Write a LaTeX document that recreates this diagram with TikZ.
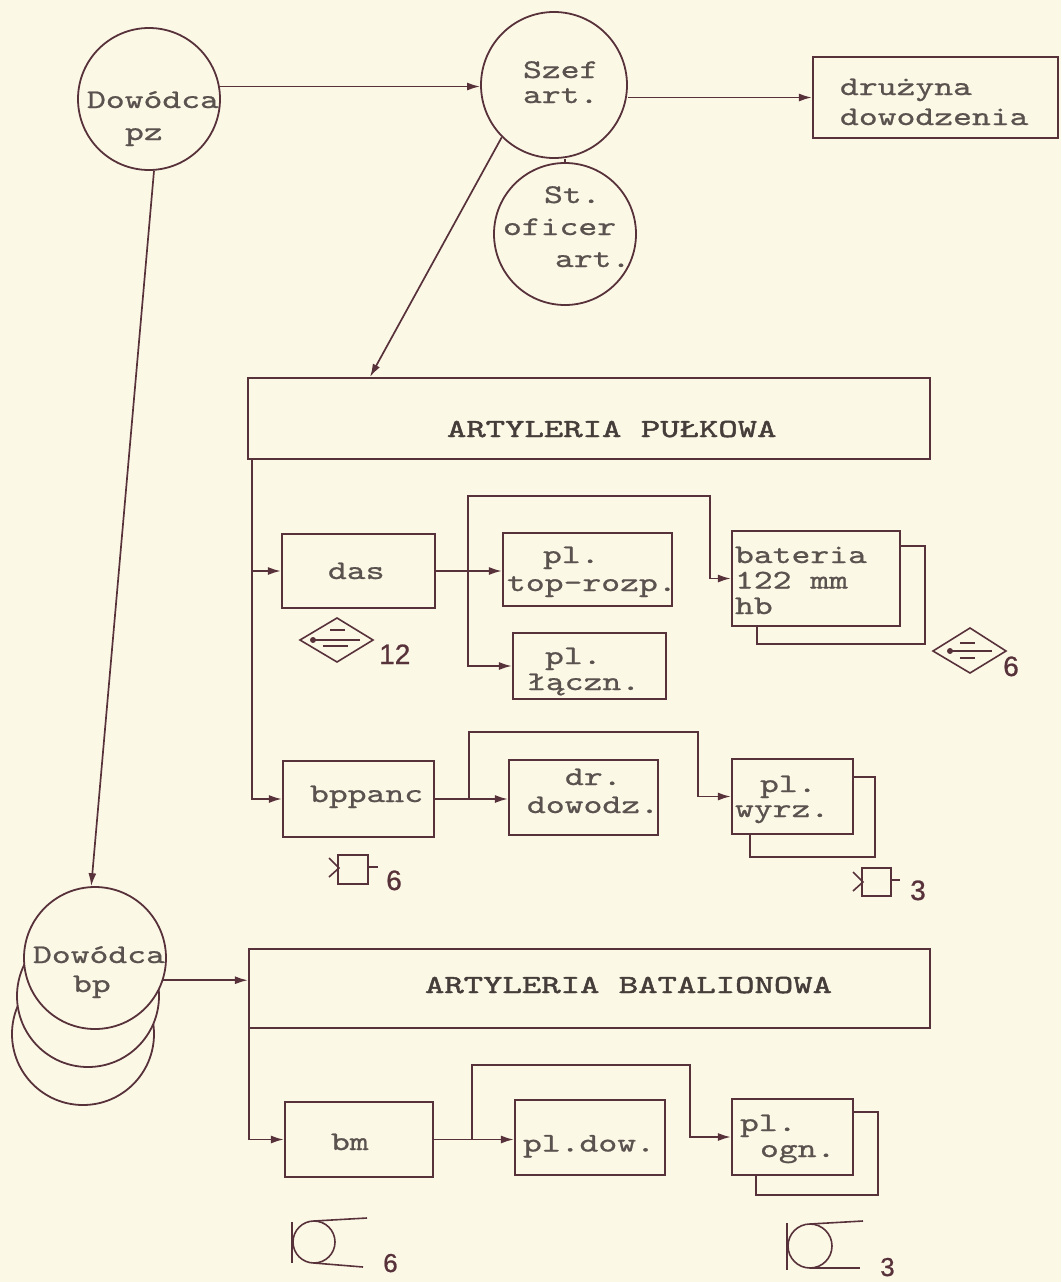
\documentclass[tikz,border=0pt]{standalone}
\usepackage{fontspec}
\usetikzlibrary{arrows.meta,calc}
\newfontfamily\tw{lmmono10-regular.otf}[FakeStretch=1.33,FakeBold=0.8]
\newfontfamily\twcaps{lmmono10-regular.otf}[FakeStretch=1.42,FakeBold=1.8]
\newfontfamily\hand{Liberation Sans}[FakeBold=0.8]
\definecolor{paper}{RGB}{252,248,230}
\definecolor{ink}{RGB}{88,50,58}
\definecolor{type}{RGB}{90,82,78}
% text block: #1 left offset, #2 first baseline below centre, #3 line distance, #4 lines
\newcommand\tx[4]{\makebox[0pt][l]{\hspace*{#1}\raisebox{-#2}[0pt][0pt]{\vtop{\baselineskip=#3\relax\lineskiplimit=-100pt\lineskip=0pt\halign{##\hfil\cr#4\crcr}}}}}
\begin{document}
\begin{tikzpicture}[x=1pt,y=-1pt,
  circ/.style={draw=ink, circle, line width=1.8pt, minimum size=142pt, inner sep=0pt, text=type, font=\tw\fontsize{27}{30}\selectfont},
  box/.style={draw=ink, rectangle, line width=2.2pt, inner sep=0pt, text=type, font=\tw\fontsize{27}{30}\selectfont},
  capsbox/.style={box, text=type!75!black, font=\twcaps\fontsize{26}{30}\selectfont},
  arr/.style={draw=ink, line width=1.7pt, -{Latex[length=13pt,width=8pt]}},
  conn/.style={draw=ink, line width=1.7pt},
  shadowline/.style={draw=ink, line width=2pt},
  sym/.style={draw=ink, line width=1.6pt},
  num/.style={text=ink, font=\hand\fontsize{28}{30}\selectfont, inner sep=0pt, anchor=base west}
]
\useasboundingbox (0,0) rectangle (1061,1282);
\fill[paper] (0,0) rectangle (1061,1282);

% ---- circles
\node[circ] (pz) at (149,99) {\tx{-62pt}{9pt}{32pt}{Dowódca\cr\hspace*{38pt}pz}};
\node[circ, minimum size=146pt] (szef) at (554,85) {\tx{-31pt}{-7pt}{25pt}{Szef\cr art.}};
\node[circ] (st) at (565,234) {\tx{-62pt}{-31pt}{32pt}{\hspace*{41pt}St.\cr oficer\cr\hspace*{52pt}art.}};
\node[circ, fill=paper] (bp3) at (83,1034) {};
\node[circ, fill=paper] (bp2) at (88,996) {};
\node[circ, fill=paper] (bp1) at (95,958) {\tx{-62pt}{5pt}{29pt}{Dowódca\cr\hspace*{40pt}bp}};

% ---- boxes
\node[box, minimum width=245pt, minimum height=81pt] (druz) at (935.5,97.5) {\tx{-95.5pt}{-2.5pt}{30pt}{drużyna\cr dowodzenia}};
\node[capsbox, minimum width=682pt, minimum height=81pt] (AP) at (589,418.5) {\tx{-142pt}{18.5pt}{30pt}{ARTYLERIA PUŁKOWA}};
\node[capsbox, minimum width=681pt, minimum height=79pt] (AB) at (589.5,988.5) {\tx{-164.5pt}{4.5pt}{30pt}{ARTYLERIA BATALIONOWA}};

\node[box, minimum width=153pt, minimum height=74pt] (das) at (358.5,571) {\tx{-30.5pt}{8pt}{30pt}{das}};
\node[box, minimum width=169pt, minimum height=73pt] (top) at (587.5,569.5) {\tx{-80.5pt}{-6.5pt}{28pt}{\hspace*{36pt}pl.\cr top-rozp.}};
\node[box, minimum width=153pt, minimum height=66pt] (lacz) at (589.5,666) {\tx{-62.5pt}{-2pt}{26pt}{\hspace*{18pt}pl.\cr łączn.}};
\node[box, minimum width=168pt, minimum height=95pt] (bat) at (816,578.5) {\tx{-81pt}{-15.5pt}{25.5pt}{bateria\cr 122 mm\cr hb}};

\node[box, minimum width=151pt, minimum height=76pt] (bppanc) at (358.5,799) {\tx{-48.5pt}{3pt}{30pt}{bppanc}};
\node[box, minimum width=149pt, minimum height=75pt] (drdow) at (583.5,797.5) {\tx{-56.5pt}{-12.5pt}{28pt}{\hspace*{38pt}dr.\cr dowodz.}};
\node[box, minimum width=121pt, minimum height=75pt] (wyrz) at (792.5,796.5) {\tx{-57.5pt}{-4.5pt}{25pt}{\hspace*{25pt}pl.\cr wyrz.}};

\node[box, minimum width=148pt, minimum height=75pt] (bm) at (359,1139.5) {\tx{-28pt}{10.5pt}{30pt}{bm}};
\node[box, minimum width=150pt, minimum height=75pt] (pldow) at (590,1137.5) {\tx{-67pt}{14pt}{30pt}{pl.dow.}};
\node[box, minimum width=121pt, minimum height=76pt] (ogn) at (792.5,1137) {\tx{-52.5pt}{-6pt}{26pt}{pl.\cr\hspace*{20pt}ogn.}};

% ---- shadows of multiplied units
\draw[shadowline] ($(bat.north east)+(0,16)$) -- ++(24,0) |- ($(bat.south west)+(26,17)$) -- ($(bat.south west)+(26,0)$);
\draw[shadowline] ($(wyrz.north east)+(0,19)$) -- ++(21,0) |- ($(wyrz.south west)+(19,22)$) -- ($(wyrz.south west)+(19,0)$);
\draw[shadowline] ($(ogn.north east)+(0,14)$) -- ++(24,0) |- ($(ogn.south west)+(25,19)$) -- ($(ogn.south west)+(25,0)$);

% ---- top connectors
\draw[arr] (pz.10) -- (pz.10 -| szef.west);
\draw[arr] (druz.west -| szef.east) -- (druz.west);
\draw[conn] (st.north) -- (st.north |- szef.south);
\coordinate (apT) at ($(AP.north west)!0.18!(AP.north east)$);
\draw[arr] (szef.-135) -- (apT);
\draw[arr] (pz.-86) -- (bp1.93);
\draw[arr] (bp1.-18) -- (bp1.-18 -| AB.west);

% ---- regimental artillery
\coordinate (apL) at ($(AP.south west)+(5,0)$);
\draw[arr] (apL) |- (bppanc.west);
\draw[arr] (apL |- das.west) -- (das.west);
\draw[arr] (das.east) -- (das.east -| top.west);
\coordinate (j1) at (468,571);
\coordinate (k1) at (710,496);
\draw[arr] (j1) |- (k1) |- (bat.west);
\draw[arr] (j1) |- (lacz.west);

\draw[arr] (bppanc.east) -- (bppanc.east -| drdow.west);
\coordinate (j2) at (469,799);
\coordinate (k2) at (698,732);
\draw[arr] (j2) |- (k2) |- (wyrz.west);

% ---- battalion artillery
\coordinate (abL) at ($(AB.south west)+(1,0)$);
\draw[arr] (abL) |- (bm.west);
\draw[arr] (bm.east) -- (bm.east -| pldow.west);
\coordinate (j3) at (472,1139.5);
\coordinate (k3) at (690,1065);
\draw[arr] (j3) |- (k3) |- (ogn.west);

% ---- symbols
% radio station under das
\draw[sym] (300,640) -- (337,618) -- (373,640) -- (337,662) -- cycle;
\fill[ink] (313,640) circle (3pt);
\draw[sym] (313,640) -- (360,640);
\draw[sym] (330,630) -- (345,630);
\draw[sym, line width=2.5pt] (323,646) -- (348,646);
\node[num] (n12) at (379,664) {12};
% radio station at battery
\draw[sym] (933,651) -- (970,628) -- (1006,651) -- (970,673) -- cycle;
\fill[ink] (950,651) circle (3pt);
\draw[sym] (950,651) -- (992,651);
\draw[sym] (960,643) -- (975,643);
\draw[sym] (960,658) -- (975,658);
\node[num] (n6a) at (1003,676) {6};
% anti-tank weapons
\draw[sym] (338,855) rectangle (368,884);
\draw[sym] (329,858) -- (339,868) -- (329,877);
\draw[sym] (368,867) -- (378,867);
\node[num] (n6b) at (386,890) {6};
\draw[sym] (862,868) rectangle (891,896);
\draw[sym] (853,872) -- (863,882) -- (853,891);
\draw[sym] (891,880) -- (900,880);
\node[num] (n3a) at (910,900) {3};
% mortars
\draw[sym] (292,1222) -- (292,1263);
\draw[sym] (314,1242) circle (21pt);
\draw[sym] (314,1221) -- (367,1218);
\draw[sym] (314,1263) -- (363,1267);
\node[num, font=\hand\fontsize{26}{28}\selectfont] (n6c) at (383,1272) {6};
\draw[sym] (787,1223) -- (787,1270);
\draw[sym] (810,1246) circle (22pt);
\draw[sym] (810,1224) -- (863,1221);
\draw[sym] (810,1268) -- (860,1268);
\node[num, font=\hand\fontsize{26}{28}\selectfont] (n3b) at (880,1276) {3};
\end{tikzpicture}
\end{document}
